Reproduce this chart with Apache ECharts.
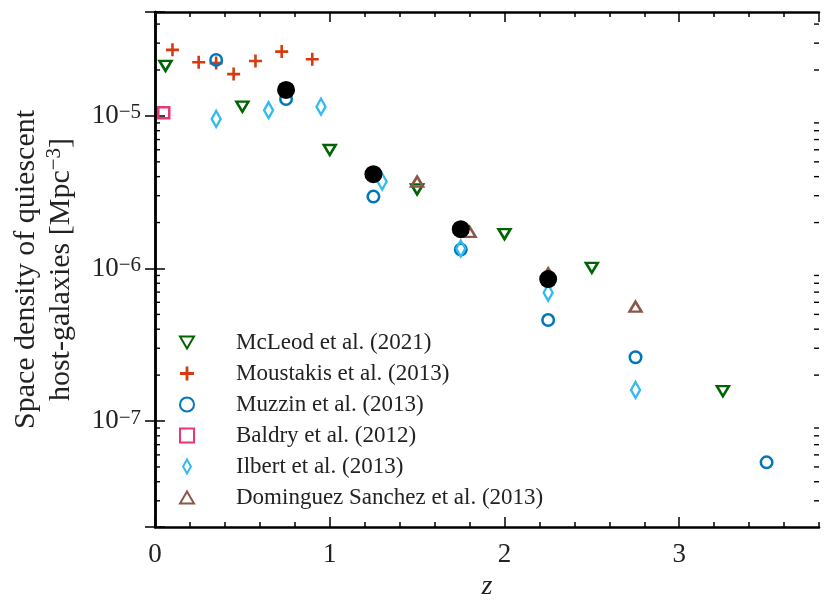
<!DOCTYPE html>
<html>
<head>
<meta charset="utf-8">
<script src="https://cdn.jsdelivr.net/npm/echarts@6/dist/echarts.min.js"></script>
<style>
html,body{margin:0;padding:0;background:#fff;}
#chart{width:830px;height:614px;}
</style>
</head>
<body>
<div id="chart"></div>
<script>
// axis ranges
var X_MIN = 0, X_MAX = 3.8;
var Y_MIN = 2.02e-8, Y_MAX = 4.8e-5;
var xTickLabels = [0, 1, 2, 3];

// McLeod et al. (2021)
var mcleodZ = [0.06, 0.5, 1.0, 1.5, 2.0, 2.5, 3.25];
var mcleodN = [2.13e-5, 1.15e-5, 5.98e-6, 3.3e-6, 1.68e-6, 1.01e-6, 1.57e-7];
// Moustakis et al. (2013)
var moustZ = [0.1, 0.25, 0.35, 0.45, 0.575, 0.725, 0.9];
var moustN = [2.71e-5, 2.25e-5, 2.22e-5, 1.88e-5, 2.29e-5, 2.64e-5, 2.35e-5];
// Muzzin et al. (2013)
var muzzinZ = [0.35, 0.75, 1.25, 1.75, 2.25, 2.75, 3.5];
var muzzinN = [2.33e-5, 1.29e-5, 2.96e-6, 1.33e-6, 4.59e-7, 2.62e-7, 5.36e-8];
// Baldry et al. (2012)
var baldryZ = [0.05];
var baldryN = [1.05e-5];
// Ilbert et al. (2013)
var ilbertZ = [0.35, 0.65, 0.95, 1.3, 1.75, 2.25, 2.75];
var ilbertN = [9.56e-6, 1.09e-5, 1.15e-5, 3.71e-6, 1.35e-6, 6.94e-7, 1.6e-7];
// Dominguez Sanchez et al. (2013)
var domZ = [1.5, 1.8, 2.25, 2.75];
var domN = [3.71e-6, 1.74e-6, 9.3e-7, 5.62e-7];
// host galaxies (black dots)
var hostZ = [0.75, 1.25, 1.75, 2.25];
var hostN = [1.48e-5, 4.15e-6, 1.81e-6, 8.53e-7];

var FONT = '"Liberation Serif", "DejaVu Serif", serif';

//把两列数组拼成点
function pairs(xs, ys){
	var out = [];
	for(var i=0;i<xs.length;i++){ out.push([xs[i], ys[i]]); }
	return out;
}

//对数轴次刻度（左右两边各一份）
var yMinor = [];
for(var e=-8;e<=-5;e++){
	for(var m=2;m<=9;m++){
		var v = m*Math.pow(10, e);
		if(v > Y_MIN && v < Y_MAX){
			yMinor.push([X_MIN, v]);
			yMinor.push([X_MAX, v]);
		}
	}
}

function powLabel(v){
	var ex = Math.log10(v);
	var r = Math.round(ex);
	if(Math.abs(ex - r) > 1e-6){ return ''; }
	return '{b|10}{s|' + (r < 0 ? '\u2212' : '') + Math.abs(r) + '}';
}

var hollow = function(c){ return {color:'rgba(0,0,0,0)', borderColor:c, borderWidth:2.5, opacity:1}; };
var TRI_DOWN = 'path://M0,0L10,0L5,8.66Z';
var TRI_UP = 'path://M5,0L10,8.66L0,8.66Z';
var PLUS = 'path://M-1.2,-6H1.2V-1.2H6V1.2H1.2V6H-1.2V1.2H-6V-1.2H-1.2Z';
var THIN_DIAMOND = 'path://M4.5,0L9,8L4.5,16L0,8Z';

var axisLine = {show:true, lineStyle:{color:'#000', width:2.5}};
var majorTick = {show:true, inside:true, length:10, lineStyle:{color:'#000', width:1.5}};
var minorAxisTick = {show:true, inside:true, length:5, lineStyle:{color:'#000', width:1.5}};

var option = {
	animation: false,
	backgroundColor: '#fff',
	grid: {left:155, right:11, top:12, bottom:87},
	legend: {
		orient: 'vertical', left: 174, top: 326,
		itemWidth: 14, itemHeight: 14, itemGap: 8,
		textStyle: {fontFamily: FONT, fontSize: 23, color: '#222', lineHeight: 23, padding: [0,0,0,37]},
		data: ['McLeod et al. (2021)', 'Moustakis et al. (2013)', 'Muzzin et al. (2013)',
			'Baldry et al. (2012)', {name:'Ilbert et al. (2013)', icon:THIN_DIAMOND},
			'Dominguez Sanchez et al. (2013)']
	},
	xAxis: [{
		type:'value', position:'bottom', min:X_MIN, max:X_MAX, interval:1,
		name:'z', nameLocation:'middle', nameGap:40,
		nameTextStyle:{fontFamily:FONT, fontSize:28, fontStyle:'italic', color:'#222'},
		axisLine:axisLine, axisTick:majorTick, splitLine:{show:false},
		axisLabel:{fontFamily:FONT, fontSize:27, color:'#222', margin:14, showMaxLabel:false,
			formatter:function(v){ return xTickLabels.indexOf(v) >= 0 ? String(v) : ''; }}
	},{
		type:'value', position:'top', min:X_MIN, max:X_MAX, interval:1,
		axisLine:axisLine, axisTick:majorTick, splitLine:{show:false}, axisLabel:{show:false}
	},{
		//次刻度 0.2，同一个 grid 里叠在下边和上边
		type:'value', position:'bottom', offset:0, min:X_MIN, max:X_MAX, interval:0.2,
		axisLine:{show:false}, axisTick:minorAxisTick, splitLine:{show:false}, axisLabel:{show:false}
	},{
		type:'value', position:'top', offset:0, min:X_MIN, max:X_MAX, interval:0.2,
		axisLine:{show:false}, axisTick:minorAxisTick, splitLine:{show:false}, axisLabel:{show:false}
	}],
	yAxis: [{
		type:'log', logBase:10, position:'left', min:Y_MIN, max:Y_MAX,
		name:'{a|Space density of quiescent}\n{a|host-galaxies [Mpc}{u|\u22123}{a|]}',
		nameLocation:'middle', nameGap:76,
		nameTextStyle:{
			rich:{
				a:{fontFamily:FONT, fontSize:30, color:'#222', lineHeight:35},
				u:{fontFamily:FONT, fontSize:21, color:'#222', verticalAlign:'top', lineHeight:35}
			}
		},
		axisLine:axisLine, axisTick:majorTick, splitLine:{show:false},
		axisLabel:{margin:14, formatter:powLabel,
			rich:{
				b:{fontFamily:FONT, fontSize:27, color:'#222'},
				s:{fontFamily:FONT, fontSize:21, color:'#222', verticalAlign:'top'}
			}}
	},{
		type:'log', logBase:10, position:'right', min:Y_MIN, max:Y_MAX,
		axisLine:axisLine, axisTick:majorTick, splitLine:{show:false}, axisLabel:{show:false}
	}],
	series: [
		{
			type:'custom', silent:true, z:5, data:yMinor,
			encode:{x:0, y:1},
			renderItem:function(params, api){
				var p = api.coord([api.value(0), api.value(1)]);
				var d = api.value(0) > X_MIN ? -5 : 5;
				return {type:'line', shape:{x1:p[0], y1:p[1], x2:p[0]+d, y2:p[1]},
					style:{stroke:'#000', lineWidth:1.4}};
			}
		},
		//让两条次刻度 x 轴也有系列挂着
		{type:'scatter', xAxisIndex:2, yAxisIndex:0, data:[], silent:true},
		{type:'scatter', xAxisIndex:3, yAxisIndex:1, data:[], silent:true},
		{name:'McLeod et al. (2021)', type:'scatter', symbol:TRI_DOWN, symbolSize:[12,10],
			itemStyle:hollow('#006400'), data:pairs(mcleodZ, mcleodN), z:3},
		{name:'Moustakis et al. (2013)', type:'scatter', symbol:PLUS, symbolSize:13,
			itemStyle:{color:'#d83a10', opacity:1}, data:pairs(moustZ, moustN), z:3},
		{name:'Muzzin et al. (2013)', type:'scatter', symbol:'circle', symbolSize:11.5,
			itemStyle:hollow('#0077bb'), data:pairs(muzzinZ, muzzinN), z:3},
		{name:'Baldry et al. (2012)', type:'scatter', symbol:'rect', symbolSize:11,
			itemStyle:hollow('#ee3377'), data:pairs(baldryZ, baldryN), z:3},
		{name:'Ilbert et al. (2013)', type:'scatter', symbol:'diamond', symbolSize:[9,16],
			itemStyle:hollow('#33bbee'), data:pairs(ilbertZ, ilbertN), z:3},
		{name:'Dominguez Sanchez et al. (2013)', type:'scatter', symbol:TRI_UP, symbolSize:[12,10],
			itemStyle:hollow('#8c564b'), data:pairs(domZ, domN), z:3},
		{name:'host', type:'scatter', symbol:'circle', symbolSize:18,
			itemStyle:{color:'#000', opacity:1}, data:pairs(hostZ, hostN), z:4}
	]
};

var myChart = echarts.init(document.getElementById('chart'));
myChart.setOption(option);
</script>
</body>
</html>
